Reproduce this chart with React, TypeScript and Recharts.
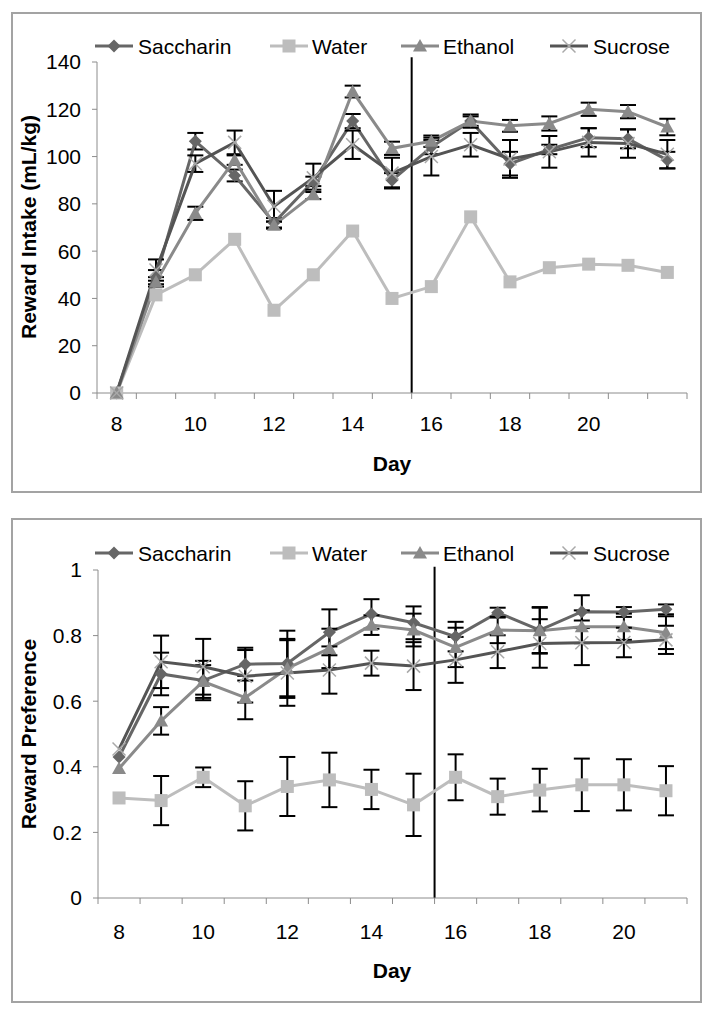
import React from 'react';
import { LineChart, Line, XAxis, YAxis, ErrorBar, ReferenceLine } from 'recharts';

const FONT = '"Liberation Sans", Arial, Helvetica, sans-serif';

// ---------- Data: Reward Intake (top panel) ----------
const intakeDays = [8, 9, 10, 11, 12, 13, 14, 15, 16, 17, 18, 19, 20, 21, 22];
const intakeSaccharin = [0, 49, 106.5, 92, 72, 89.5, 115, 90, 104, 115, 97, 103, 108, 107.5, 98.5];
const intakeSaccharinErr = [0, 3, 3.5, 2.5, 2, 2, 3, 3, 3, 2, 5, 2, 4, 4, 3.5];
const intakeWater = [0, 41.5, 50, 65, 35, 50, 68.5, 40, 45, 74.5, 47, 53, 54.5, 54, 51];
const intakeEthanol = [0, 47, 76, 98.5, 71, 84, 127.5, 103.5, 106.5, 115, 113, 114, 120, 119, 112.5];
const intakeEthanolErr = [0, 2, 2.8, 2, 1.5, 2, 2.5, 2.8, 2.4, 2.8, 2.5, 3, 2.8, 2.8, 3.5];
const intakeSucrose = [0, 52, 97, 106, 79, 91, 105, 93, 100, 105, 99, 102, 106, 105.5, 101];
const intakeSucroseErr = [0, 4.5, 3.5, 5, 6.5, 6, 6, 6.5, 8, 5, 8, 6.7, 6, 6, 6];
const intakeYTicks = [0, 20, 40, 60, 80, 100, 120, 140];

// ---------- Data: Reward Preference (bottom panel) ----------
const prefDays = [8, 9, 10, 11, 12, 13, 14, 15, 16, 17, 18, 19, 20, 21];
const prefSaccharin = [0.43, 0.683, 0.663, 0.713, 0.715, 0.81, 0.866, 0.839, 0.797, 0.87, 0.817, 0.873, 0.872, 0.88];
const prefSaccharinErr = [0, 0.065, 0.06, 0.05, 0.1, 0.07, 0.045, 0.05, 0.045, 0.015, 0.07, 0.05, 0.015, 0.015];
const prefWater = [0.305, 0.297, 0.368, 0.281, 0.34, 0.36, 0.331, 0.284, 0.368, 0.309, 0.329, 0.345, 0.345, 0.327];
const prefWaterErr = [0, 0.075, 0.03, 0.075, 0.09, 0.083, 0.06, 0.095, 0.07, 0.055, 0.065, 0.08, 0.078, 0.075];
const prefEthanol = [0.395, 0.54, 0.66, 0.611, 0.7, 0.761, 0.832, 0.817, 0.764, 0.817, 0.815, 0.827, 0.827, 0.809];
const prefEthanolErr = [0, 0.042, 0.05, 0.066, 0.09, 0.06, 0.03, 0.05, 0.06, 0.04, 0.07, 0.05, 0.04, 0.05];
const prefSucrose = [0.454, 0.72, 0.705, 0.676, 0.686, 0.695, 0.716, 0.707, 0.726, 0.751, 0.776, 0.778, 0.779, 0.787];
const prefSucroseErr = [0, 0.08, 0.085, 0.08, 0.1, 0.072, 0.038, 0.073, 0.07, 0.05, 0.074, 0.068, 0.045, 0.043];
const prefYTicks = [0, 0.2, 0.4, 0.6, 0.8, 1];

const xLabelDays = [8, 10, 12, 14, 16, 18, 20];
const seriesNames = ['Saccharin', 'Water', 'Ethanol', 'Sucrose'];

const C_SAC = '#666666';
const C_WAT = '#bdbdbd';
const C_ETH = '#8a8a8a';
const C_SUC = '#545454';
const C_SUC_MARK = '#a8a8a8';

const intakeData = intakeDays.map((d, i) => ({
  day: d,
  sac: intakeSaccharin[i], sacErr: intakeSaccharinErr[i],
  wat: intakeWater[i],
  eth: intakeEthanol[i], ethErr: intakeEthanolErr[i],
  suc: intakeSucrose[i], sucErr: intakeSucroseErr[i],
}));

const prefData = prefDays.map((d, i) => ({
  day: d,
  sac: prefSaccharin[i], sacErr: prefSaccharinErr[i],
  wat: prefWater[i], watErr: prefWaterErr[i],
  eth: prefEthanol[i], ethErr: prefEthanolErr[i],
  suc: prefSucrose[i], sucErr: prefSucroseErr[i],
}));

type Shape = 'diamond' | 'square' | 'triangle' | 'x';

function marker(shape: Shape, cx: number, cy: number, key?: string) {
  if (cx == null || cy == null || isNaN(cx) || isNaN(cy)) return <g key={key} />;
  if (shape === 'diamond') {
    const s = 6.5;
    return <polygon key={key} points={`${cx},${cy - s} ${cx + s},${cy} ${cx},${cy + s} ${cx - s},${cy}`} fill={C_SAC} />;
  }
  if (shape === 'square') {
    const s = 6.5;
    return <rect key={key} x={cx - s} y={cy - s} width={2 * s} height={2 * s} fill={C_WAT} />;
  }
  if (shape === 'triangle') {
    const s = 7;
    return <polygon key={key} points={`${cx},${cy - s} ${cx + s},${cy + s * 0.8} ${cx - s},${cy + s * 0.8}`} fill={C_ETH} />;
  }
  const s = 6.5;
  return (
    <g key={key}>
      <line x1={cx - s} y1={cy - s} x2={cx + s} y2={cy + s} stroke={C_SUC_MARK} strokeWidth={1.5} />
      <line x1={cx - s} y1={cy + s} x2={cx + s} y2={cy - s} stroke={C_SUC_MARK} strokeWidth={1.5} />
    </g>
  );
}

const dotFn = (shape: Shape) => (p: any) => marker(shape, p.cx, p.cy, `${shape}-${p.index}`);

const makeXTick = (halfStep: number, drop: number) => (props: any) => {
  const { x, y, payload } = props;
  const center = Math.round((payload.value + 0.5) * 10) / 10;
  if (!xLabelDays.includes(center)) return <g />;
  return (
    <text x={x + halfStep} y={y + drop} textAnchor="middle" fontSize={21} fontFamily={FONT} fill="#000">
      {center}
    </text>
  );
};

const legendItems: { name: string; shape: Shape; color: string; lx: number; tx: number }[] = [
  { name: seriesNames[0], shape: 'diamond', color: C_SAC, lx: 95, tx: 138 },
  { name: seriesNames[1], shape: 'square', color: C_WAT, lx: 270, tx: 312 },
  { name: seriesNames[2], shape: 'triangle', color: C_ETH, lx: 401, tx: 443 },
  { name: seriesNames[3], shape: 'x', color: C_SUC, lx: 550, tx: 593 },
];

function LegendRow({ cy }: { cy: number }) {
  return (
    <g>
      {legendItems.map((it) => (
        <g key={it.name}>
          <line x1={it.lx - 8} y1={cy} x2={it.lx + 38 - 8} y2={cy} stroke={it.color} strokeWidth={3} />
          {marker(it.shape, it.lx + 19 - 8, cy)}
          <text x={it.tx - 8} y={cy + 7.5} fontSize={21} fontFamily={FONT} fill="#000">{it.name}</text>
        </g>
      ))}
    </g>
  );
}

const axisGray = '#8c8c8c';

export default function App() {
  return (
    <div style={{ position: 'relative', width: 696, height: 995, fontFamily: FONT }}>
      {/* panel borders */}
      <div style={{ position: 'absolute', left: 3, top: 4, width: 691, height: 481, border: '2px solid #a3a3a3', boxSizing: 'border-box' }} />
      <div style={{ position: 'absolute', left: 3, top: 510, width: 691, height: 485, border: '2px solid #a3a3a3', boxSizing: 'border-box' }} />

      {/* Top chart */}
      <div style={{ position: 'absolute', left: 0, top: 0 }}>
        <LineChart width={696} height={500} data={intakeData} margin={{ top: 54, right: 17, bottom: 55, left: 0 }}>
          <XAxis
            dataKey="day"
            type="number"
            domain={[7.5, 22.5]}
            ticks={[7.5, 8.5, 9.5, 10.5, 11.5, 12.5, 13.5, 14.5, 15.5, 16.5, 17.5, 18.5, 19.5, 20.5, 21.5, 22.5]}
            interval={0}
            height={60}
            tickSize={6}
            tickMargin={0}
            stroke={axisGray}
            tick={makeXTick(590 / 15 / 2, 32)}
          />
          <YAxis
            type="number"
            domain={[0, 140]}
            ticks={intakeYTicks}
            width={89}
            tickSize={5}
            tickMargin={11}
            stroke={axisGray}
            tick={{ fontSize: 21, fill: '#000', fontFamily: FONT }}
          />
          <ReferenceLine segment={[{ x: 15.5, y: 0 }, { x: 15.5, y: 142 }]} stroke="#000" strokeWidth={2} ifOverflow="visible" />
          <Line dataKey="sac" stroke={C_SAC} strokeWidth={3} dot={dotFn('diamond')} activeDot={false} isAnimationActive={false}>
            <ErrorBar dataKey="sacErr" direction="y" width={8} stroke="#000" strokeWidth={2} />
          </Line>
          <Line dataKey="wat" stroke={C_WAT} strokeWidth={3} dot={dotFn('square')} activeDot={false} isAnimationActive={false} />
          <Line dataKey="eth" stroke={C_ETH} strokeWidth={3} dot={dotFn('triangle')} activeDot={false} isAnimationActive={false}>
            <ErrorBar dataKey="ethErr" direction="y" width={8} stroke="#000" strokeWidth={2} />
          </Line>
          <Line dataKey="suc" stroke={C_SUC} strokeWidth={3} dot={dotFn('x')} activeDot={false} isAnimationActive={false}>
            <ErrorBar dataKey="sucErr" direction="y" width={8} stroke="#000" strokeWidth={2} />
          </Line>
        </LineChart>
      </div>

      {/* Bottom chart */}
      <div style={{ position: 'absolute', left: 0, top: 505 }}>
        <LineChart width={696} height={480} data={prefData} margin={{ top: 57, right: 17, bottom: 35, left: 0 }}>
          <XAxis
            dataKey="day"
            type="number"
            domain={[7.5, 21.5]}
            ticks={[7.5, 8.5, 9.5, 10.5, 11.5, 12.5, 13.5, 14.5, 15.5, 16.5, 17.5, 18.5, 19.5, 20.5, 21.5]}
            interval={0}
            height={60}
            tickSize={6}
            tickMargin={0}
            stroke={axisGray}
            tick={makeXTick(589 / 14 / 2, 35)}
          />
          <YAxis
            type="number"
            domain={[0, 1]}
            ticks={prefYTicks}
            width={90}
            tickSize={5}
            tickMargin={11}
            stroke={axisGray}
            tick={{ fontSize: 21, fill: '#000', fontFamily: FONT }}
          />
          <ReferenceLine segment={[{ x: 15.5, y: 0 }, { x: 15.5, y: 1.01 }]} stroke="#000" strokeWidth={2} ifOverflow="visible" />
          <Line dataKey="sac" stroke={C_SAC} strokeWidth={3} dot={dotFn('diamond')} activeDot={false} isAnimationActive={false}>
            <ErrorBar dataKey="sacErr" direction="y" width={8} stroke="#000" strokeWidth={2} />
          </Line>
          <Line dataKey="wat" stroke={C_WAT} strokeWidth={3} dot={dotFn('square')} activeDot={false} isAnimationActive={false}>
            <ErrorBar dataKey="watErr" direction="y" width={8} stroke="#000" strokeWidth={2} />
          </Line>
          <Line dataKey="eth" stroke={C_ETH} strokeWidth={3} dot={dotFn('triangle')} activeDot={false} isAnimationActive={false}>
            <ErrorBar dataKey="ethErr" direction="y" width={8} stroke="#000" strokeWidth={2} />
          </Line>
          <Line dataKey="suc" stroke={C_SUC} strokeWidth={3} dot={dotFn('x')} activeDot={false} isAnimationActive={false}>
            <ErrorBar dataKey="sucErr" direction="y" width={8} stroke="#000" strokeWidth={2} />
          </Line>
        </LineChart>
      </div>

      {/* Legends and axis titles */}
      <svg width={696} height={995} style={{ position: 'absolute', left: 0, top: 0, pointerEvents: 'none' }}>
        <LegendRow cy={38} />
        <LegendRow cy={545} />
        <text x={20.5} y={219} transform="rotate(-90 20.5 219)" dy="0.36em" textAnchor="middle" fontSize={21} fontWeight="bold" fontFamily={FONT} fill="#000">
          Reward Intake (mL/kg)
        </text>
        <text x={384} y={455} dy="0.36em" textAnchor="middle" fontSize={21} fontWeight="bold" fontFamily={FONT} fill="#000">Day</text>
        <text x={20} y={726} transform="rotate(-90 20 726)" dy="0.36em" textAnchor="middle" fontSize={21} fontWeight="bold" fontFamily={FONT} fill="#000">
          Reward Preference
        </text>
        <text x={384} y={962} dy="0.36em" textAnchor="middle" fontSize={21} fontWeight="bold" fontFamily={FONT} fill="#000">Day</text>
      </svg>
    </div>
  );
}
